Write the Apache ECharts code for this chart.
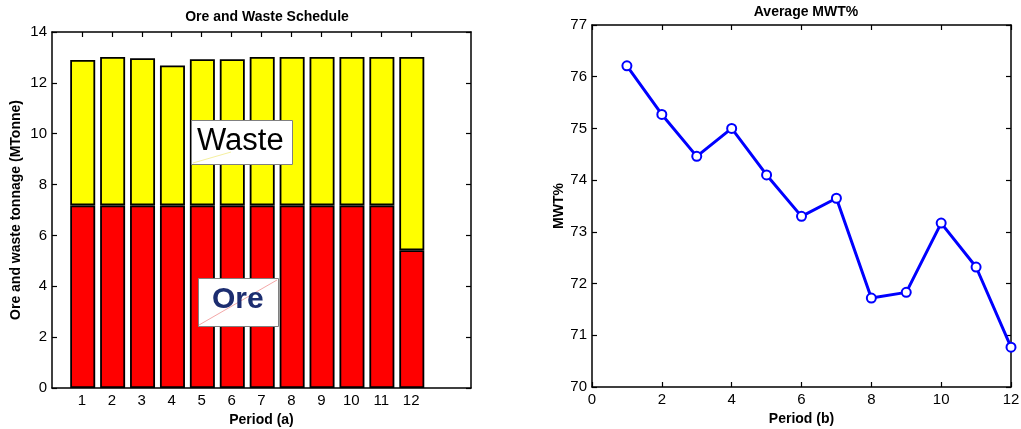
<!DOCTYPE html>
<html>
<head>
<meta charset="utf-8">
<script src="https://cdn.jsdelivr.net/npm/echarts@6/dist/echarts.min.js"></script>
<style>
  html, body { margin: 0; padding: 0; background: #fff; }
  #chart { width: 1021px; height: 429px; }
</style>
</head>
<body>
<div id="chart"></div>
<script>
// left: ore / waste schedule (MTonne)
const periods = [1, 2, 3, 4, 5, 6, 7, 8, 9, 10, 11, 12]
const ore = [7.18, 7.18, 7.18, 7.18, 7.18, 7.18, 7.18, 7.18, 7.18, 7.18, 7.18, 5.42]
const waste = [5.72, 5.84, 5.79, 5.5, 5.75, 5.75, 5.84, 5.84, 5.84, 5.84, 5.84, 7.6]
// right: average MWT%
const mwtPeriods = [1, 2, 3, 4, 5, 6, 7, 8, 9, 10, 11, 12]
const mwt = [76.21, 75.27, 74.46, 75.0, 74.1, 73.3, 73.65, 71.72, 71.83, 73.17, 72.32, 70.77]

const font = 'Liberation Sans, Arial, sans-serif'
const axisLine = { show: true, onZero: false, lineStyle: { color: '#000', width: 1.5 } }
const tick = { show: true, inside: true, length: 5, lineStyle: { color: '#000', width: 1.2 } }
const label = { color: '#000', fontSize: 15, fontFamily: font }
const nameStyle = { color: '#000', fontSize: 14, fontWeight: 'bold', fontFamily: font }
const hidden = { show: false }

const chart = echarts.init(document.getElementById('chart'))

chart.setOption({
  animation: false,
  title: [
    {
      text: 'Ore and Waste Schedule', left: 262, top: 5, textAlign: 'center',
      textStyle: { fontSize: 14, fontWeight: 'bold', color: '#000', fontFamily: font }
    },
    {
      text: 'Average MWT%', left: 801, top: 0, textAlign: 'center',
      textStyle: { fontSize: 14, fontWeight: 'bold', color: '#000', fontFamily: font }
    }
  ],
  grid: [
    // frame of the bar chart, x from 0 to 14
    { left: 52, top: 32, width: 419, height: 356, outerBoundsMode: 'none' },
    { left: 592, top: 25, width: 419, height: 362, outerBoundsMode: 'none' },
    // bars sit in the 1..12 band region of the frame
    { left: 67.75, top: 32, width: 359, height: 356, outerBoundsMode: 'none' }
  ],
  xAxis: [
    {
      gridIndex: 0, type: 'value', min: 0, max: 14,
      name: 'Period (a)', nameLocation: 'middle', nameGap: 24, nameTextStyle: nameStyle,
      axisLine: axisLine, splitLine: hidden,
      axisTick: Object.assign({}, tick, { customValues: periods }),
      axisLabel: Object.assign({}, label, { customValues: periods, margin: 5 })
    },
    {
      gridIndex: 0, type: 'value', min: 0, max: 14, position: 'top',
      axisLine: axisLine, splitLine: hidden,
      axisTick: Object.assign({}, tick, { customValues: periods }),
      axisLabel: hidden
    },
    {
      gridIndex: 1, type: 'value', min: 0, max: 12, interval: 2,
      name: 'Period (b)', nameLocation: 'middle', nameGap: 24, nameTextStyle: nameStyle,
      axisLine: axisLine, axisTick: tick, splitLine: hidden,
      axisLabel: Object.assign({}, label, { margin: 5, showMinLabel: true, showMaxLabel: true })
    },
    {
      gridIndex: 1, type: 'value', min: 0, max: 12, interval: 2, position: 'top',
      axisLine: axisLine, axisTick: tick, splitLine: hidden,
      axisLabel: hidden
    },
    {
      gridIndex: 2, type: 'category', data: periods,
      axisLine: hidden, axisTick: hidden, axisLabel: hidden, splitLine: hidden
    }
  ],
  yAxis: [
    {
      gridIndex: 0, type: 'value', min: 0, max: 14, interval: 2,
      name: 'Ore and waste tonnage (MTonne)', nameLocation: 'middle', nameGap: 29, nameTextStyle: nameStyle,
      axisLine: axisLine, axisTick: tick, splitLine: hidden,
      axisLabel: Object.assign({}, label, { margin: 5 })
    },
    {
      gridIndex: 0, type: 'value', min: 0, max: 14, interval: 2, position: 'right',
      axisLine: axisLine, axisTick: tick, splitLine: hidden,
      axisLabel: hidden
    },
    {
      gridIndex: 1, type: 'value', min: 70, max: 77, interval: 1,
      name: 'MWT%', nameLocation: 'middle', nameGap: 26, nameTextStyle: nameStyle,
      axisLine: axisLine, axisTick: tick, splitLine: hidden,
      axisLabel: Object.assign({}, label, { margin: 5 })
    },
    {
      gridIndex: 1, type: 'value', min: 70, max: 77, interval: 1, position: 'right',
      axisLine: axisLine, axisTick: tick, splitLine: hidden,
      axisLabel: hidden
    },
    {
      gridIndex: 2, type: 'value', min: 0, max: 14,
      axisLine: hidden, axisTick: hidden, axisLabel: hidden, splitLine: hidden
    }
  ],
  series: [
    {
      name: 'Ore', type: 'bar', stack: 'tonnage', xAxisIndex: 4, yAxisIndex: 4,
      barWidth: 25,
      itemStyle: { color: '#ff0000', borderColor: '#000', borderWidth: 1.8 },
      data: ore
    },
    {
      name: 'Waste', type: 'bar', stack: 'tonnage', xAxisIndex: 4, yAxisIndex: 4,
      barWidth: 25,
      itemStyle: { color: '#ffff00', borderColor: '#000', borderWidth: 1.8 },
      data: waste
    },
    {
      name: 'MWT', type: 'line', xAxisIndex: 2, yAxisIndex: 2,
      symbol: 'emptyCircle', symbolSize: 9,
      lineStyle: { color: '#0000ff', width: 3 },
      itemStyle: { color: '#0000ff', borderColor: '#0000ff', borderWidth: 2.5 },
      data: mwtPeriods.map((p, i) => [p, mwt[i]])
    }
  ],
  // text boxes on the bar chart
  graphic: [
    {
      type: 'rect', left: 191, top: 120, z: 100,
      shape: { width: 101, height: 44 },
      style: { fill: '#fff', stroke: '#808080', lineWidth: 1 }
    },
    {
      type: 'line', z: 101,
      shape: { x1: 193, y1: 163, x2: 231, y2: 152 },
      style: { stroke: '#f5f0a0', lineWidth: 1 }
    },
    {
      type: 'text', left: 197, top: 126, z: 102,
      style: { text: 'Waste', fill: '#000', font: '31px ' + font }
    },
    {
      type: 'rect', left: 198, top: 278, z: 100,
      shape: { width: 80, height: 48 },
      style: { fill: '#fff', stroke: '#808080', lineWidth: 1 }
    },
    {
      type: 'line', z: 101,
      shape: { x1: 199, y1: 325, x2: 277, y2: 280 },
      style: { stroke: '#f4a8a8', lineWidth: 1 }
    },
    {
      type: 'text', left: 212, top: 285, z: 102,
      style: { text: 'Ore', fill: '#1c2d70', font: 'bold 30px ' + font }
    }
  ]
})
</script>
</body>
</html>
